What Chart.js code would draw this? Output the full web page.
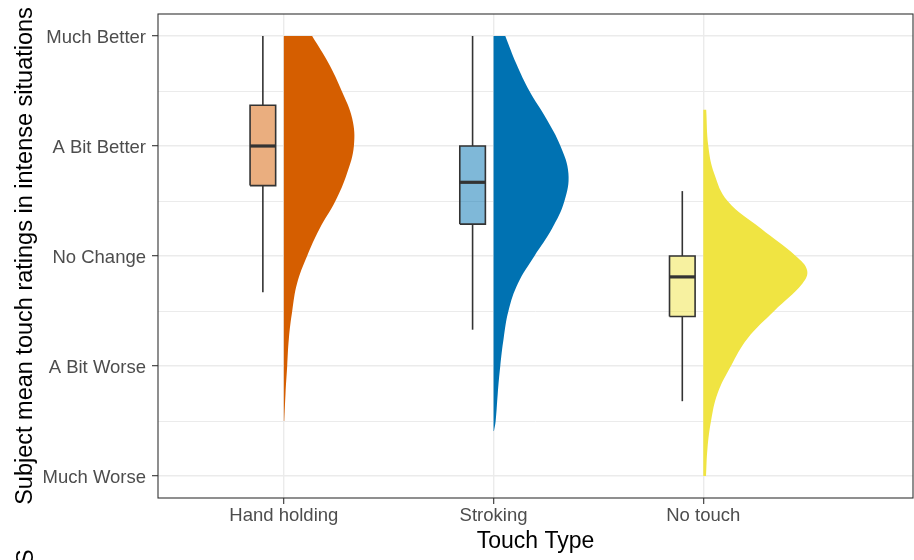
<!DOCTYPE html>
<html lang="en">
<head>
<meta charset="UTF-8">
<title>Touch ratings</title>
<script src="https://cdn.jsdelivr.net/npm/chart.js"></script>
<style>
  body { margin: 0; background: #fff; }
  canvas { display: block; }
</style>
</head>
<body>
<canvas id="myChart" width="914" height="560"></canvas>
<script>
// categories and rating scale
const touchTypes = ['Hand holding', 'Stroking', 'No touch'];
const ratingValues = [1, 2, 3, 4, 5];
const ratingLabels = ['Much Worse', 'A Bit Worse', 'No Change', 'A Bit Better', 'Much Better'];
const ratingMinor = [1.5, 2.5, 3.5, 4.5];

// boxplot stats per touch type
const whiskerLow = [2.67, 2.33, 1.68];
const boxQ1 = [3.64, 3.29, 2.45];
const boxMedian = [4.0, 3.67, 2.81];
const boxQ3 = [4.37, 4.0, 3.0];
const whiskerHigh = [5.0, 5.0, 3.59];

// half violins: rating value -> density width (in category units)
const handValues = [1.5, 1.75, 2, 2.25, 2.5, 2.75, 3, 3.25, 3.5, 3.75, 4, 4.25, 4.5, 4.75, 5];
const handWidths = [0.002, 0.008, 0.016, 0.024, 0.040, 0.063, 0.111, 0.171, 0.246, 0.301, 0.334, 0.326, 0.276, 0.214, 0.135];
const strokeValues = [1.41, 1.5, 1.75, 2, 2.25, 2.5, 2.75, 3, 3.25, 3.5, 3.75, 4, 4.25, 4.5, 4.75, 5];
const strokeWidths = [0.002, 0.010, 0.020, 0.032, 0.048, 0.071, 0.116, 0.195, 0.279, 0.338, 0.357, 0.319, 0.251, 0.171, 0.108, 0.056];
const noTouchValues = [1, 1.25, 1.5, 1.75, 2, 2.25, 2.5, 2.75, 2.87, 3, 3.25, 3.5, 3.75, 4, 4.33];
const noTouchWidths = [0.013, 0.020, 0.037, 0.068, 0.132, 0.211, 0.338, 0.473, 0.495, 0.441, 0.275, 0.116, 0.052, 0.024, 0.014];

const violinColors = ['#D55E00', '#0072B2', '#F0E442'];
const boxColors = ['rgba(213,94,0,0.5)', 'rgba(0,114,178,0.5)', 'rgba(240,228,66,0.5)'];
const lineColor = '#333333';
const gridColor = '#EBEBEB';
const boxOffset = -0.1;
const boxHalf = 0.061;

Chart.defaults.font.family = '"Liberation Sans", Arial, sans-serif';

// closed outline: axis -> right edge -> axis (end points doubled to keep corners sharp)
function violinPoints(center, values, widths) {
    const n = values.length;
    const pts = [{x: center, y: values[0]}, {x: center + widths[0], y: values[0]}];
    values.forEach((v, i) => pts.push({x: center + widths[i], y: v}));
    pts.push({x: center + widths[n - 1], y: values[n - 1]});
    pts.push({x: center, y: values[n - 1]});
    return pts;
}

const violins = [
    violinPoints(1, handValues, handWidths),
    violinPoints(2, strokeValues, strokeWidths),
    violinPoints(3, noTouchValues, noTouchWidths)
];

const datasets = [];
violins.forEach((pts, i) => {
    datasets.push({
        data: pts,
        showLine: true,
        fill: 'shape',
        backgroundColor: violinColors[i],
        borderWidth: 0,
        pointRadius: 0,
        tension: 0.4,
        order: 3
    });
});

touchTypes.forEach((name, i) => {
    const c = i + 1 + boxOffset;
    const l = c - boxHalf, r = c + boxHalf;
    // box
    datasets.push({
        data: [{x: l, y: boxQ1[i]}, {x: r, y: boxQ1[i]}, {x: r, y: boxQ3[i]}, {x: l, y: boxQ3[i]}, {x: l, y: boxQ1[i]}],
        showLine: true,
        fill: 'shape',
        backgroundColor: boxColors[i],
        borderColor: lineColor,
        borderWidth: 1.6,
        pointRadius: 0,
        order: 2
    });
    // whiskers
    datasets.push({
        data: [{x: c, y: boxQ3[i]}, {x: c, y: whiskerHigh[i]}],
        showLine: true, borderColor: lineColor, borderWidth: 1.6, pointRadius: 0, order: 1
    });
    datasets.push({
        data: [{x: c, y: whiskerLow[i]}, {x: c, y: boxQ1[i]}],
        showLine: true, borderColor: lineColor, borderWidth: 1.6, pointRadius: 0, order: 1
    });
    // median
    datasets.push({
        data: [{x: l, y: boxMedian[i]}, {x: r, y: boxMedian[i]}],
        showLine: true, borderColor: lineColor, borderWidth: 3.2, pointRadius: 0, order: 0
    });
});

const panelBorder = {
    id: 'panelBorder',
    afterDatasetsDraw(chart) {
        const {ctx, chartArea: a} = chart;
        ctx.save();
        ctx.strokeStyle = lineColor;
        ctx.lineWidth = 1.1;
        ctx.strokeRect(a.left, a.top, a.right - a.left, a.bottom - a.top);
        ctx.restore();
    },
    afterDraw(chart) {
        // clipped letter left over at the bottom edge of the figure
        const ctx = chart.ctx;
        ctx.save();
        ctx.translate(33, 565);
        ctx.rotate(-Math.PI / 2);
        ctx.font = '23.5px "Liberation Sans", Arial, sans-serif';
        ctx.fillStyle = '#000';
        ctx.fillText('S', 0, 0);
        ctx.restore();
    }
};

const isMajor = (ctx) => ctx.tick && Number.isInteger(ctx.tick.value);

new Chart(document.getElementById('myChart').getContext('2d'), {
    type: 'scatter',
    data: { datasets: datasets },
    plugins: [panelBorder],
    options: {
        responsive: false,
        animation: false,
        events: [],
        layout: { padding: { left: 0, right: 1, top: 14, bottom: 0 } },
        plugins: {
            legend: { display: false },
            tooltip: { enabled: false }
        },
        scales: {
            x: {
                type: 'linear',
                min: 0.4,
                max: 4.0,
                afterBuildTicks: (axis) => { axis.ticks = [1, 2, 3].map(v => ({value: v})); },
                afterFit: (axis) => {
                    axis.height = 62;
                    axis.paddingLeft = 0;
                    axis.paddingRight = 0;
                },
                border: { display: false },
                grid: { color: gridColor, lineWidth: 1.4, tickColor: lineColor, tickLength: 6, tickWidth: 1.1 },
                ticks: {
                    autoSkip: false,
                    maxRotation: 0,
                    padding: 1,
                    color: '#4D4D4D',
                    font: { size: 18.5 },
                    callback: (v) => touchTypes[v - 1] || ''
                },
                title: {
                    display: true,
                    text: 'Touch Type',
                    color: '#000',
                    font: { size: 23 },
                    padding: { top: 0, bottom: 5 }
                }
            },
            y: {
                type: 'linear',
                min: 0.8,
                max: 5.2,
                afterBuildTicks: (axis) => {
                    axis.ticks = ratingValues.concat(ratingMinor).sort((a, b) => a - b).map(v => ({value: v}));
                },
                afterFit: (axis) => {
                    axis.width = 158;
                    axis.paddingTop = 0;
                    axis.paddingBottom = 0;
                },
                border: { display: false },
                grid: {
                    color: gridColor,
                    lineWidth: (ctx) => isMajor(ctx) ? 1.4 : 1.0,
                    tickColor: (ctx) => isMajor(ctx) ? lineColor : 'rgba(0,0,0,0)',
                    tickLength: 6,
                    tickWidth: 1.1
                },
                ticks: {
                    autoSkip: false,
                    padding: 6,
                    labelOffset: 1.5,
                    color: '#4D4D4D',
                    font: { size: 18.5 },
                    callback: (v) => {
                        const i = ratingValues.indexOf(v);
                        return i >= 0 ? ratingLabels[i] : '';
                    }
                },
                title: {
                    display: true,
                    text: 'Subject mean touch ratings in intense situations',
                    color: '#000',
                    font: { size: 23.5 },
                    padding: { top: 11, bottom: 0 }
                }
            }
        }
    }
});
</script>
</body>
</html>
